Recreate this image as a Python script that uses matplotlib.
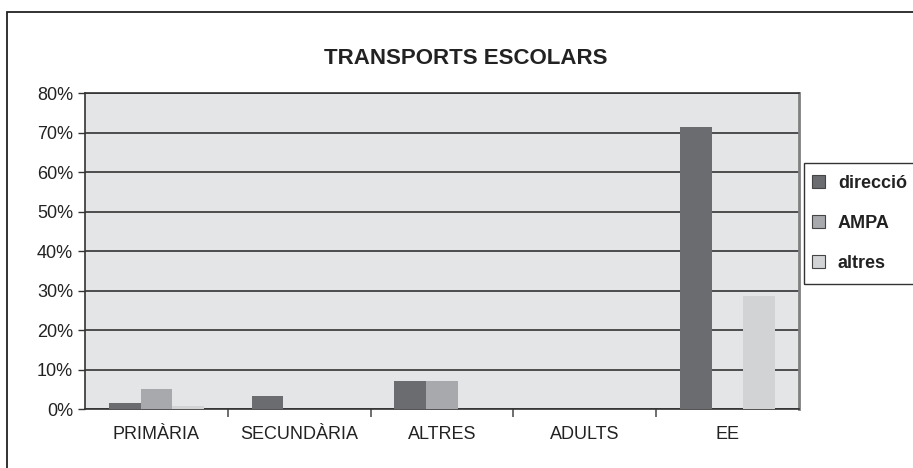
import numpy as np
import matplotlib.pyplot as plt
import matplotlib.patches as mpatches
from matplotlib.ticker import FuncFormatter

plt.rcParams['font.family'] = ['Liberation Sans', 'DejaVu Sans']

categories = ['PRIMÀRIA', 'SECUNDÀRIA', 'ALTRES', 'ADULTS', 'EE']
direccio = [1.5, 3.3, 7.1, 0, 71.4]
ampa = [5.1, 0, 7.1, 0, 0]
altres = [0.8, 0, 0, 0, 28.6]
series_names = ['direcció', 'AMPA', 'altres']
colors = ['#6b6c70', '#a8a9ac', '#d2d3d5']

fig = plt.figure(figsize=(9.13, 4.68), dpi=100)
ax = fig.add_axes([85/913, 1-409.3/468, (799-85)/913, (409.3-93.3)/468])
ax.set_facecolor('#e4e5e7')

x = np.arange(len(categories))
w = 1/4.5
for i, vals in enumerate([direccio, ampa, altres]):
    ax.bar(x + (i-1)*w, vals, width=w, color=colors[i], label=series_names[i], zorder=3)

ax.set_xlim(-0.5, len(categories)-0.5)
ax.set_ylim(0, 80)
ax.set_yticks(range(0, 81, 10))
ax.yaxis.set_major_formatter(FuncFormatter(lambda v, p: f'{int(v)}%'))
ax.yaxis.grid(True, color='#333333', lw=1.2, zorder=1)
ax.set_xticks(x)
ax.set_xticklabels(categories)
ax.set_xticks(np.arange(0.5, len(categories)-1, 1), minor=True)
ax.tick_params(axis='x', which='major', length=0, labelsize=13, pad=12, colors='#222222')
ax.tick_params(axis='x', which='minor', length=6, width=1.2, color='#555555')
ax.tick_params(axis='y', length=5, width=1, labelsize=13, color='#333333', labelcolor='#222222')

for s in ['left', 'bottom', 'top']:
    ax.spines[s].set_color('#333333')
    ax.spines[s].set_linewidth(1.2)
ax.spines['right'].set_color('#808080')
ax.spines['right'].set_linewidth(2)

fig.text(466/913, 1-58/468, 'TRANSPORTS ESCOLARS', ha='center', va='center',
         fontsize=16, fontweight='bold', color='#222222')

# legend without its own frame, box drawn separately
handles = [mpatches.Patch(facecolor=c, edgecolor='#444444', lw=0.8) for c in colors]
leg = fig.legend(handles, series_names, loc='upper left',
                 bbox_to_anchor=(804/913, 1-167/468), borderaxespad=0,
                 prop={'size': 13, 'weight': 'bold'}, handlelength=0.72, handleheight=0.72,
                 labelspacing=1.27, handletextpad=0.7, borderpad=0.45, frameon=False)
for t in leg.get_texts():
    t.set_color('#222222')

legbox = mpatches.Rectangle((804/913, 1-284/468), 0.2, (284-163)/468, transform=fig.transFigure,
                            fill=False, lw=1, ec='#333333')
fig.patches.append(legbox)

frame = mpatches.Rectangle((7/913, -0.1), 2, 1-12/468+0.1, transform=fig.transFigure,
                           fill=False, lw=1.3, ec='#222222')
fig.patches.append(frame)

fig.savefig('out.png', dpi=100, facecolor='white')
